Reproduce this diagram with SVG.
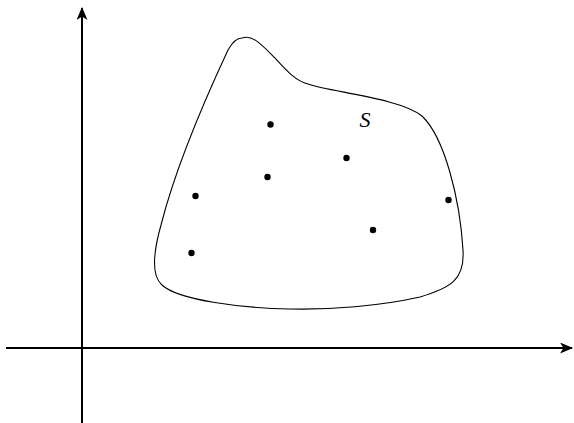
<svg xmlns="http://www.w3.org/2000/svg" width="574" height="423" viewBox="0 0 574 423">
<style>
.axis{stroke:#000;stroke-width:2;fill:none}
.blob{stroke:#000;stroke-width:1.1;fill:none}
.dot{fill:#000}
.lbl{font-family:"Liberation Serif",serif;font-style:italic;font-size:22px;fill:#000}
</style>
<defs>
<marker id="arr" viewBox="0 0 13 11" refX="12" refY="5.5" markerWidth="13" markerHeight="11" markerUnits="userSpaceOnUse" orient="auto">
<path d="M0,0 L13,5.5 L0,11 L3.5,5.5 Z" fill="#000"/>
</marker>
</defs>
<g id="axes">
<line class="axis" x1="6" y1="348" x2="572" y2="348" marker-end="url(#arr)"/>
<line class="axis" x1="82" y1="423" x2="82" y2="8" marker-end="url(#arr)"/>
</g>
<g id="set-S">
<path class="blob" d="M242,38 C252,34 262,45 275,58 C288,72 296,81 308,84 C330,92 400,98 422,116 C445,138 460,200 463,250 C465,280 450,288 420,297 C380,306 330,310 290,309 C240,308 178,300 162,285 C150,275 154,250 161,225 C175,170 200,110 228,50 C233,41 237,38 242,38 Z"/>
<text class="lbl" x="359.5" y="127">S</text>
</g>
<g id="points">
<circle class="dot" cx="270.5" cy="124.5" r="3.2"/>
<circle class="dot" cx="346.5" cy="158" r="3.2"/>
<circle class="dot" cx="267.5" cy="177" r="3.2"/>
<circle class="dot" cx="195.5" cy="196" r="3.2"/>
<circle class="dot" cx="448.5" cy="200" r="3.2"/>
<circle class="dot" cx="373" cy="230" r="3.2"/>
<circle class="dot" cx="191.5" cy="253" r="3.2"/>
</g>
</svg>
